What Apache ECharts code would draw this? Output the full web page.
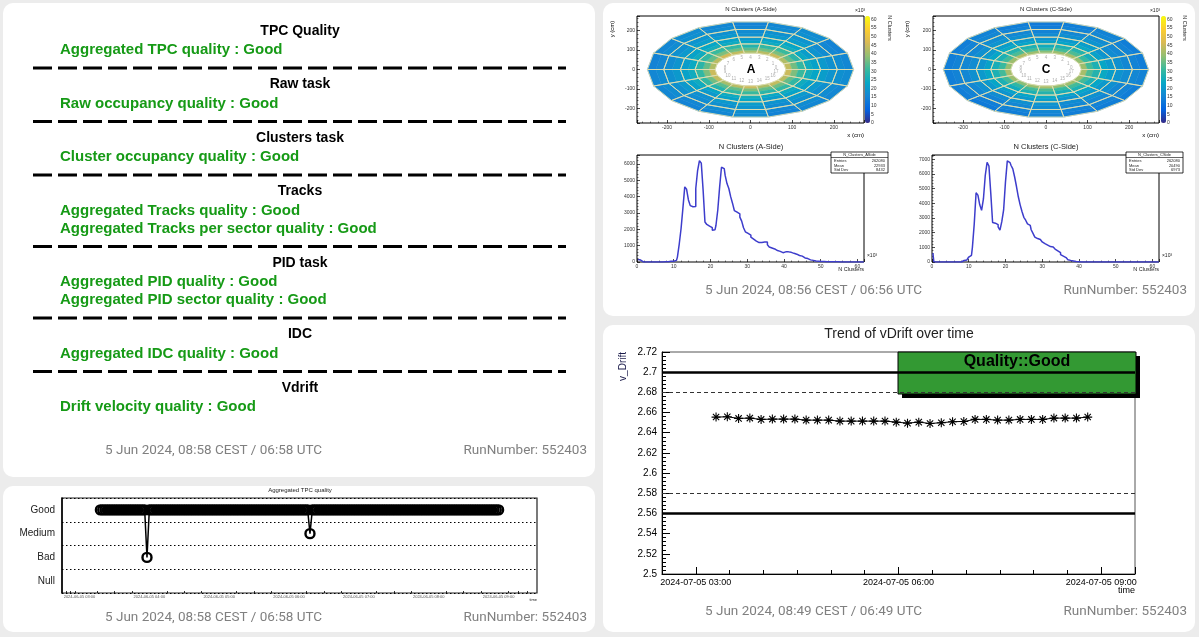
<!DOCTYPE html>
<html>
<head>
<meta charset="utf-8">
<script src="https://cdn.jsdelivr.net/npm/echarts@6/dist/echarts.min.js"></script>
<style>
html, body { margin: 0; padding: 0; background: #ececec; }
#main { width: 1199px; height: 637px; }
</style>
</head>
<body>
<div id="main"></div>
<script>
// ---------- data ----------
const sectorCount = 18
const radialEdges = [85, 100, 115, 133, 150, 168, 188, 208, 227, 247]
const rocEdges = [85, 133, 168, 208, 247]
// rows = radial bins (inner -> outer), columns = sectors 0..17 (x10^3 clusters)
const clusterMapA = [
    [44, 42, 45, 43, 41, 44, 46, 43, 42, 45, 44, 41, 43, 45, 42, 44, 43, 45],
    [36, 35, 37, 36, 34, 36, 37, 35, 35, 37, 36, 34, 35, 37, 35, 36, 35, 37],
    [30, 29, 31, 30, 28, 30, 31, 30, 29, 30, 30, 28, 30, 31, 29, 30, 30, 31],
    [25, 24, 26, 25, 23, 25, 26, 25, 24, 25, 25, 23, 25, 26, 24, 25, 25, 26],
    [22, 21, 23, 22, 20, 22, 23, 22, 21, 22, 22, 20, 22, 23, 21, 22, 22, 23],
    [20, 19, 21, 20, 18, 20, 21, 20, 19, 20, 20, 18, 20, 21, 19, 20, 20, 21],
    [18, 17, 19, 18, 17, 18, 19, 18, 17, 18, 18, 17, 18, 19, 17, 18, 18, 19],
    [17, 16, 18, 17, 16, 17, 18, 17, 16, 17, 17, 16, 17, 18, 16, 17, 17, 18],
    [16, 15, 17, 16, 15, 16, 17, 16, 15, 16, 16, 15, 16, 17, 15, 16, 16, 17]
]
const clusterMapC = [
    [40, 39, 41, 40, 38, 40, 42, 40, 39, 41, 40, 38, 40, 41, 39, 40, 40, 41],
    [32, 31, 33, 32, 30, 32, 33, 32, 31, 32, 32, 30, 32, 33, 31, 32, 32, 33],
    [27, 26, 28, 27, 25, 27, 28, 27, 26, 27, 27, 25, 27, 28, 26, 27, 27, 28],
    [23, 22, 24, 23, 22, 23, 24, 23, 22, 23, 23, 22, 23, 24, 22, 23, 23, 24],
    [20, 19, 21, 20, 19, 20, 21, 20, 19, 20, 20, 19, 20, 21, 19, 20, 20, 21],
    [18, 17, 19, 18, 17, 18, 19, 18, 17, 18, 18, 17, 18, 19, 17, 18, 18, 19],
    [16, 16, 17, 16, 15, 16, 17, 16, 16, 16, 16, 15, 16, 17, 16, 16, 16, 17],
    [15, 15, 16, 15, 14, 15, 16, 15, 15, 15, 15, 14, 15, 16, 15, 15, 15, 16],
    [14, 14, 15, 14, 13, 14, 15, 14, 14, 14, 14, 13, 14, 15, 14, 14, 14, 15]
]

// N clusters histograms, bins of 0.5 (x10^3) from 0 to 62
const histBinWidth = 0.5
const nClustersA = [
    150, 120, 20, 5, 0, 0, 0, 0, 0, 0,
    0, 0, 0, 0, 5, 10, 20, 30, 40, 50,
    50, 100, 300, 1100, 2050, 3300, 4600, 4450, 3800, 3450,
    3380, 3400, 4500, 5600, 6200, 6050, 4400, 2450, 2300, 2200,
    2100, 1950, 1980, 2250, 3200, 4600, 5800, 5720, 5300, 4800,
    4500, 4000, 3600, 3150, 3050, 2950, 2750, 2500, 2100, 1850,
    1750, 1650, 1520, 1400, 1280, 1200, 1190, 1200, 1180, 1220,
    1230, 1050, 920, 860, 800, 760, 700, 650, 600, 570,
    620, 650, 620, 590, 570, 530, 480, 430, 400, 360,
    300, 250, 210, 170, 130, 100, 80, 60, 50, 40,
    35, 30, 25, 20, 20, 15, 15, 10, 10, 10,
    5, 5, 5, 5, 0, 0, 0, 0, 0, 0,
    0, 0, 0, 0
]
const nClustersC = [
    600, 20, 0, 0, 0, 0, 0, 0, 0, 0,
    0, 0, 0, 0, 0, 0, 60, 100, 140, 200,
    340, 460, 1000, 2600, 4720, 4560, 3900, 3530, 4300, 5900,
    6800, 6550, 4700, 2700, 2650, 2550, 2400, 2180, 2750, 3550,
    5450, 6900, 6780, 6600, 6350, 5800, 5150, 4450, 3900, 3450,
    3050, 2850, 2600, 2500, 2200, 1950, 1700, 1600, 1530, 1450,
    1370, 1250, 1150, 1100, 1050, 1020, 950, 880, 760, 640,
    500, 400, 300, 220, 160, 110, 70, 50, 30, 20,
    0, 0, 0, 0, 0, 0, 0, 0, 0, 0,
    0, 0, 0, 0, 0, 0, 0, 0, 0, 0,
    0, 0, 0, 0, 0, 0, 0, 0, 0, 0,
    0, 0, 0, 0, 0, 0, 0, 0, 0, 0,
    0, 0, 0, 0
]
const statsA = [['Entries', '262080'], ['Mean', '22933'], ['Std Dev', '8432']]
const statsC = [['Entries', '262080'], ['Mean', '20490'], ['Std Dev', '6973']]

// aggregated quality trend, one check every 2 minutes from 03:18
const qualityLevels = ['Null', 'Bad', 'Medium', 'Good']
const qualityCodeNames = { G: 'Good', M: 'Medium', B: 'Bad', N: 'Null' }
const qualityDay = '2024-06-05'
const qualityStart = '03:18'
const qualityStepMin = 2
const qualityCodes = [
    'GGGGGGGGGG', 'GGGGGGGGGG', 'BGGGGGGGGG', 'GGGGGGGGGG', 'GGGGGGGGGG',
    'GGGGGGGGGG', 'GGGGGGGGGG', 'GGGGGGGGGG', 'GGGGGGGGGG', 'MGGGGGGGGG',
    'GGGGGGGGGG', 'GGGGGGGGGG', 'GGGGGGGGGG', 'GGGGGGGGGG', 'GGGGGGGGGG',
    'GGGGGGGGGG', 'GGGGGGGGGG', 'GG'
].join('')

// vDrift trend
const vDriftDay = '2024-07-05'
const vDriftTimes = [
    '03:18', '03:28', '03:38', '03:48', '03:58',
    '04:08', '04:18', '04:28', '04:38', '04:48', '04:58',
    '05:08', '05:18', '05:28', '05:38', '05:48', '05:58',
    '06:08', '06:18', '06:28', '06:38', '06:48', '06:58',
    '07:08', '07:18', '07:28', '07:38', '07:48', '07:58',
    '08:08', '08:18', '08:28', '08:38', '08:48'
]
const vDriftValues = [
    2.6555, 2.6558, 2.6542, 2.6545, 2.6532,
    2.6535, 2.6535, 2.6535, 2.6525, 2.6525, 2.6525,
    2.6515, 2.6515, 2.6515, 2.6515, 2.6515, 2.6505,
    2.6495, 2.6505, 2.6492, 2.6499, 2.6509, 2.6512,
    2.6532, 2.6532, 2.6525, 2.6525, 2.6532, 2.6532,
    2.6532, 2.6545, 2.6545, 2.6545, 2.6555
]
const vDriftSolidLimits = [2.70, 2.56]
const vDriftDashedLimits = [2.68, 2.58]

// texts
const panelSections = [
    ['TPC Quality', ['Aggregated TPC quality : Good']],
    ['Raw task', ['Raw occupancy quality : Good']],
    ['Clusters task', ['Cluster occupancy quality : Good']],
    ['Tracks', ['Aggregated Tracks quality : Good', 'Aggregated Tracks per sector quality : Good']],
    ['PID task', ['Aggregated PID quality : Good', 'Aggregated PID sector quality : Good']],
    ['IDC', ['Aggregated IDC quality : Good']],
    ['Vdrift', ['Drift velocity quality : Good']]
]
const runNumber = 'RunNumber: 552403'
const footerTimes = {
    panel: '5 Jun 2024, 08:58 CEST / 06:58 UTC',
    clusters: '5 Jun 2024, 08:56 CEST / 06:56 UTC',
    quality: '5 Jun 2024, 08:58 CEST / 06:58 UTC',
    vdrift: '5 Jun 2024, 08:49 CEST / 06:49 UTC'
}

// ---------- helpers ----------
const ARIAL = '"Liberation Sans", Arial, sans-serif'
const UI = 'Roboto, "Noto Sans", sans-serif'
const bird = ['#352a87', '#0363e1', '#1485d4', '#06a7c6', '#38b99e', '#92bf73', '#d9ba56', '#fcce2e', '#f9fb0e']
const ts = (day, hm) => Date.parse(day + 'T' + hm + ':00Z')
const hoursOf = hm => Number(hm.slice(0, 2)) + Number(hm.slice(3)) / 60

const cellData = map => {
    const out = []
    map.forEach((row, b) => row.forEach((v, s) => out.push([s, b, v])))
    return out
}
const outlineData = []
for (let s = 0; s < sectorCount; s++) for (let k = 0; k < rocEdges.length - 1; k++) outlineData.push([s, k])
const sectorLabelData = []
for (let s = 0; s < sectorCount; s++) {
    const a = (s + 0.5) * 2 * Math.PI / sectorCount
    sectorLabelData.push([62 * Math.cos(a), 62 * Math.sin(a), s])
}

function sectorPoly(api, s, r0, r1) {
    const a0 = s * 2 * Math.PI / sectorCount
    const a1 = (s + 1) * 2 * Math.PI / sectorCount
    return [[r0, a0], [r1, a0], [r1, a1], [r0, a1]].map(p => api.coord([p[0] * Math.cos(p[1]), p[0] * Math.sin(p[1])]))
}
function renderCell(params, api) {
    const s = api.value(0), b = api.value(1)
    return {
        type: 'polygon',
        shape: { points: sectorPoly(api, s, radialEdges[b], radialEdges[b + 1]) },
        style: { fill: api.visual('color'), stroke: api.visual('color'), lineWidth: 0.5 }
    }
}
function renderOutline(params, api) {
    const s = api.value(0), k = api.value(1)
    return {
        type: 'polygon',
        shape: { points: sectorPoly(api, s, rocEdges[k], rocEdges[k + 1]) },
        style: { fill: 'none', stroke: '#dedcb0', lineWidth: 0.9 }
    }
}

const tinyLabel = { fontSize: 5, color: '#333', fontFamily: ARIAL, margin: 2, formatter: v => String(v) }
function rootAxis(gridIndex, min, max, splitNumber, showMin, extra) {
    return Object.assign({
        type: 'value', gridIndex, min, max, splitNumber,
        axisLine: { show: false, onZero: false },
        axisTick: { inside: true, length: 3, lineStyle: { color: '#000', width: 0.7 } },
        minorTick: { show: true, splitNumber: 5, length: 1.5, lineStyle: { color: '#000', width: 0.5 } },
        splitLine: { show: false },
        axisLabel: Object.assign({}, tinyLabel, { showMinLabel: showMin, showMaxLabel: false })
    }, extra || {})
}
function frameGrid(left, top, width, height) {
    return { left, top, width, height, show: true, borderColor: '#000', borderWidth: 1, containLabel: false }
}

const asterisk = 'path://M-10,-1.2L10,-1.2L10,1.2L-10,1.2Z M-1.2,-10L1.2,-10L1.2,10L-1.2,10Z ' +
    'M-6.15,-7.85L7.85,6.15L6.15,7.85L-7.85,-6.15Z M-7.85,6.15L6.15,-7.85L7.85,-6.15L-6.15,7.85Z'

// ---------- graphic (cards & texts) ----------
const g = []
const card = (x, y, w, h) => g.push({ type: 'rect', z: -1, shape: { x, y, width: w, height: h, r: 10 }, style: { fill: '#fff' } })
const text = (x, y, t, font, fill, align, extra) => g.push(Object.assign({
    type: 'text', x, y, z: 5,
    style: { text: t, font, fill: fill || '#000', align: align || 'left', verticalAlign: 'middle' }
}, extra || {}))

card(3, 3, 592, 474)
card(603, 3, 592, 313)
card(3, 486, 592, 146)
card(603, 325, 592, 307)

// left text panel
let py = 31
panelSections.forEach((sec, i) => {
    text(300, py, sec[0], 'bold 14px ' + ARIAL, '#000', 'center')
    py += 19
    sec[1].forEach((line, j) => {
        if (j > 0) py += 18
        text(60, py, line, 'bold 15px ' + ARIAL, '#169a16')
    })
    if (i < panelSections.length - 1) {
        py += 18
        g.push({ type: 'line', z: 5, shape: { x1: 33, y1: py, x2: 566, y2: py }, style: { stroke: '#000', lineWidth: 3, lineDash: [19, 6] } })
        py += 16.5
    }
})

// footers
const footer = (xl, xr, y, t) => {
    text(xl, y, t, '13.5px ' + UI, '#808080')
    text(xr, y, runNumber, '13.5px ' + UI, '#808080', 'right')
}
footer(105, 587, 451, footerTimes.panel)
footer(705, 1187, 291, footerTimes.clusters)
footer(105, 587, 618, footerTimes.quality)
footer(705, 1187, 612, footerTimes.vdrift)

// cluster maps / histograms decorations
;[[0, 'A', statsA], [295, 'C', statsC]].forEach(([dx, side, stats]) => {
    text(751 + dx, 9, 'N Clusters (' + side + '-Side)', '6px ' + ARIAL, '#222', 'center')
    text(860 + dx, 11, '\u00d710\u00b3', '5px ' + ARIAL, '#222', 'center')
    text(890 + dx, 28, 'N Clusters', '5.5px ' + ARIAL, '#222', 'center', { rotation: -Math.PI / 2 })
    text(612 + dx, 29, 'y (cm)', '6px ' + ARIAL, '#000', 'center', { rotation: Math.PI / 2 })
    text(864 + dx, 135, 'x (cm)', '6px ' + ARIAL, '#000', 'right')
    text(751 + dx, 70, side, 'bold 12px ' + ARIAL, '#000', 'center')
    text(751 + dx, 147, 'N Clusters (' + side + '-Side)', '7.5px ' + ARIAL, '#222', 'center')
    text(872 + dx, 256, '\u00d710\u00b3', '5px ' + ARIAL, '#222', 'center')
    text(864 + dx, 269, 'N Clusters', '5.5px ' + ARIAL, '#222', 'right')
    const bx = 831 + dx, by = 152
    g.push({ type: 'rect', z: 6, shape: { x: bx, y: by, width: 57, height: 21 }, style: { fill: '#fff', stroke: '#000', lineWidth: 0.8 } })
    g.push({ type: 'line', z: 6, shape: { x1: bx, y1: by + 5.5, x2: bx + 57, y2: by + 5.5 }, style: { stroke: '#000', lineWidth: 0.6 } })
    text(bx + 28.5, by + 2.8, 'N_Clusters_' + side + 'Side', '4px ' + ARIAL, '#222', 'center', { z: 7 })
    stats.forEach((r, i) => {
        text(bx + 3, by + 9 + i * 4.5, r[0], '4px ' + ARIAL, '#222', 'left', { z: 7 })
        text(bx + 54, by + 9 + i * 4.5, r[1], '4px ' + ARIAL, '#222', 'right', { z: 7 })
    })
})

// quality chart texts
text(300, 490, 'Aggregated TPC quality', '6px ' + ARIAL, '#222', 'center')
text(537, 600, 'time', '4px ' + ARIAL, '#222', 'right')

// vDrift chart texts
text(899, 334, 'Trend of vDrift over time', '14px ' + ARIAL, '#222', 'center')
text(623, 352, 'v_Drift', '10px ' + ARIAL, '#1a1a4a', 'right', { rotation: Math.PI / 2 })
text(1135, 591, 'time', '9px ' + ARIAL, '#000', 'right')
g.push({ type: 'rect', z: 1, shape: { x: 902, y: 356, width: 238, height: 42 }, style: { fill: '#000' } })
g.push({ type: 'rect', z: 1, shape: { x: 898, y: 352, width: 238, height: 42 }, style: { fill: '#339933', stroke: '#000', lineWidth: 1 } })
text(1017, 362, 'Quality::Good', 'bold 16px ' + ARIAL, '#000', 'center', { z: 10 })

// ---------- chart ----------
const chart = echarts.init(document.getElementById('main'))

const qualityData = qualityCodes.split('').map((c, i) => [ts(qualityDay, qualityStart) + i * qualityStepMin * 60000, qualityCodeNames[c]])
const vDriftData = vDriftTimes.map((t, i) => [hoursOf(t), vDriftValues[i]])
const histPoints = arr => arr.map((v, i) => [(i + 0.5) * histBinWidth, v])
const hourLabel = h => vDriftDay + ' ' + String(h).padStart(2, '0') + ':00'

chart.setOption({
    animation: false,
    useUTC: true,
    backgroundColor: '#ececec',
    graphic: g,
    grid: [
        frameGrid(637, 16, 227, 107),   // 0 map A
        frameGrid(933, 16, 226, 107),   // 1 map C
        frameGrid(637, 155, 227, 107),  // 2 hist A
        frameGrid(932, 155, 227, 107),  // 3 hist C
        { left: 62, top: 498, width: 475, height: 95, show: true, borderColor: '#222', borderWidth: 1.2 }, // 4 quality
        { left: 662, top: 352, width: 473, height: 222, show: true, borderColor: '#555', borderWidth: 1 },  // 5 vdrift
        { left: 865, top: 16, width: 5, height: 107 },  // 6 colorbar A
        { left: 1161, top: 16, width: 5, height: 107 }  // 7 colorbar C
    ],
    xAxis: [
        rootAxis(0, -272, 272, 5, false),
        rootAxis(1, -272, 272, 5, false),
        rootAxis(2, 0, 61.8, 6, true),
        rootAxis(3, 0, 61.8, 6, true),
        {
            type: 'time', gridIndex: 4, min: ts(qualityDay, '02:45'), max: ts(qualityDay, '09:33'),
            minInterval: 3600000, maxInterval: 3600000,
            axisLine: { onZero: false, lineStyle: { color: '#000', width: 1.5 } },
            axisTick: { inside: true, length: 4, lineStyle: { color: '#000', width: 1 } },
            minorTick: { show: true, splitNumber: 4, length: 2, lineStyle: { color: '#000', width: 0.8 } },
            splitLine: { show: false },
            axisLabel: { fontSize: 4, color: '#555', fontFamily: ARIAL, margin: 2, formatter: '{yyyy}-{MM}-{dd} {HH}:{mm}' }
        },
        {
            type: 'value', gridIndex: 5, min: 2.5, max: 9.5, splitNumber: 2,
            axisLine: { onZero: false, lineStyle: { color: '#000', width: 1 } },
            axisTick: { inside: true, length: 7, lineStyle: { color: '#000', width: 1 } },
            minorTick: { show: true, splitNumber: 6, length: 4, lineStyle: { color: '#000', width: 1 } },
            splitLine: { show: false },
            axisLabel: { fontSize: 9, color: '#000', fontFamily: ARIAL, margin: 4, showMinLabel: false, showMaxLabel: false, formatter: hourLabel }
        },
        { type: 'value', gridIndex: 6, show: false, min: 0, max: 1 },
        { type: 'value', gridIndex: 7, show: false, min: 0, max: 1 }
    ],
    yAxis: [
        rootAxis(0, -274, 274, 5, false),
        rootAxis(1, -274, 274, 5, false),
        rootAxis(2, 0, 6550, 7, true),
        rootAxis(3, 0, 7300, 7, true),
        {
            type: 'category', gridIndex: 4, data: qualityLevels, boundaryGap: true,
            axisLine: { onZero: false, lineStyle: { color: '#000', width: 1.5 } },
            axisTick: { show: false },
            splitLine: { show: true, lineStyle: { color: '#000', width: 1, type: [1.5, 2.5] } },
            axisLabel: { fontSize: 10, color: '#222', fontFamily: ARIAL, margin: 7 }
        },
        {
            type: 'value', gridIndex: 5, min: 2.5, max: 2.72, interval: 0.02,
            axisLine: { onZero: false, lineStyle: { color: '#000', width: 1 } },
            axisTick: { inside: true, length: 8, lineStyle: { color: '#000', width: 1 } },
            minorTick: { show: true, splitNumber: 5, length: 4, lineStyle: { color: '#000', width: 1 } },
            splitLine: { show: false },
            axisLabel: { fontSize: 10, color: '#000', fontFamily: ARIAL, margin: 5 }
        },
        rootAxis(6, 0, 62, 12, true, { position: 'right', interval: 5, minorTick: { show: false }, axisTick: { show: false }, axisLabel: Object.assign({}, tinyLabel, { margin: 1, showMaxLabel: false }) }),
        rootAxis(7, 0, 62, 12, true, { position: 'right', interval: 5, minorTick: { show: false }, axisTick: { show: false }, axisLabel: Object.assign({}, tinyLabel, { margin: 1, showMaxLabel: false }) })
    ],
    visualMap: [
        { type: 'continuous', seriesIndex: 0, dimension: 2, min: 0, max: 62, left: 865, top: 16, itemWidth: 5, itemHeight: 107, padding: 0, calculable: false, inRange: { color: bird } },
        { type: 'continuous', seriesIndex: 3, dimension: 2, min: 0, max: 62, left: 1161, top: 16, itemWidth: 5, itemHeight: 107, padding: 0, calculable: false, inRange: { color: bird } }
    ],
    series: [
        { type: 'custom', xAxisIndex: 0, yAxisIndex: 0, renderItem: renderCell, data: cellData(clusterMapA), silent: true },
        { type: 'custom', xAxisIndex: 0, yAxisIndex: 0, renderItem: renderOutline, data: outlineData, silent: true, z: 3 },
        {
            type: 'scatter', xAxisIndex: 0, yAxisIndex: 0, symbolSize: 0, data: sectorLabelData, silent: true,
            label: { show: true, position: 'inside', formatter: p => p.value[2], fontSize: 4.5, color: '#999', fontFamily: ARIAL }
        },
        { type: 'custom', xAxisIndex: 1, yAxisIndex: 1, renderItem: renderCell, data: cellData(clusterMapC), silent: true },
        { type: 'custom', xAxisIndex: 1, yAxisIndex: 1, renderItem: renderOutline, data: outlineData, silent: true, z: 3 },
        {
            type: 'scatter', xAxisIndex: 1, yAxisIndex: 1, symbolSize: 0, data: sectorLabelData, silent: true,
            label: { show: true, position: 'inside', formatter: p => p.value[2], fontSize: 4.5, color: '#999', fontFamily: ARIAL }
        },
        {
            type: 'line', xAxisIndex: 2, yAxisIndex: 2, step: 'middle', symbol: 'none', data: histPoints(nClustersA),
            lineStyle: { color: '#3d3dcc', width: 1.5 }, silent: true
        },
        {
            type: 'line', xAxisIndex: 3, yAxisIndex: 3, step: 'middle', symbol: 'none', data: histPoints(nClustersC),
            lineStyle: { color: '#3d3dcc', width: 1.5 }, silent: true
        },
        {
            type: 'line', xAxisIndex: 4, yAxisIndex: 4, data: qualityData, symbol: 'circle', symbolSize: 9, showAllSymbol: true,
            itemStyle: { color: 'rgba(0,0,0,0)', borderColor: '#000', borderWidth: 2.4 },
            lineStyle: { color: '#000', width: 1.5 }, silent: true
        },
        {
            type: 'line', xAxisIndex: 5, yAxisIndex: 5, data: vDriftData, symbol: asterisk, symbolSize: 9,
            itemStyle: { color: '#000' }, lineStyle: { color: '#000', width: 1 }, silent: true,
            markLine: {
                silent: true, symbol: ['none', 'none'], label: { show: false },
                data: vDriftSolidLimits.map(v => ({ yAxis: v, lineStyle: { color: '#000', width: 2.5, type: 'solid' } }))
                    .concat(vDriftDashedLimits.map(v => ({ yAxis: v, lineStyle: { color: '#333', width: 1, type: [4, 3] } })))
            }
        }
    ]
})
</script>
</body>
</html>
